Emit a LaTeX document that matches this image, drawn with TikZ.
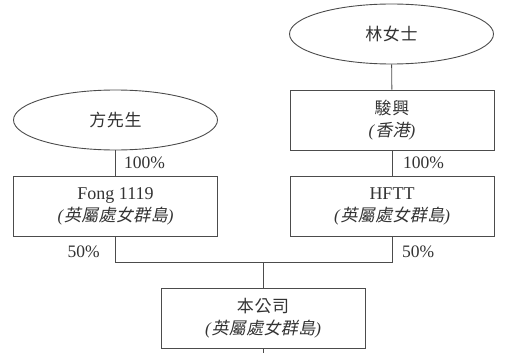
\documentclass[tikz,border=0pt]{standalone}
\usepackage{fontspec}
\setmainfont{Liberation Serif}
\newfontfamily\cjk{Noto Sans CJK TC}[LetterSpace=4]
\newfontfamily\cjkit{Noto Sans CJK TC}[FakeSlant=0.2,LetterSpace=2]
\usetikzlibrary{shapes.geometric}
\tikzset{
  ln/.style={draw=black!70, line width=0.9pt},
  person/.style={ln, ellipse, minimum width=204pt, minimum height=60pt, inner sep=0pt, text=black!80, font=\fontsize{17}{20}\selectfont},
  company/.style={ln, rectangle, minimum width=204pt, minimum height=60pt, inner sep=0pt, align=center, text=black!80, font=\fontsize{18}{22}\selectfont},
  lbl/.style={inner sep=0pt, text=black!80, font=\fontsize{17.5}{19}\selectfont},
}
\newcommand{\bvi}{\textit{(}{\cjkit 英屬處女群島}\textit{)}}
\begin{document}
\begin{tikzpicture}[x=1pt,y=1pt]
\useasboundingbox (0,0) rectangle (506,-353);
\node[person] (lin) at (391.5,-34) {\cjk 林女士};
\node[person] (fang) at (115.5,-120) {\cjk 方先生};
\node[company] (jx) at (392,-120) {{\fontsize{17}{20}\selectfont\cjk 駿興}\\{\fontsize{17}{20}\selectfont\textit{(}{\cjkit 香港}\textit{)}}};
\node[company] (fong) at (115.5,-206) {Fong 1119\\{\fontsize{17}{20}\selectfont\bvi}};
\node[company] (hftt) at (392,-206) {HFTT\\{\fontsize{17}{20}\selectfont\bvi}};
\node[company] (co) at (263,-318) {{\fontsize{17}{20}\selectfont\cjk 本公司}\\{\fontsize{17}{20}\selectfont\bvi}};
\draw[ln] (lin) -- (jx);
\draw[ln] (fang) -- (fong);
\draw[ln] (jx) -- (hftt);
\draw[ln] (fong.south) -- ++(0,-26) -| (hftt.south);
\coordinate (join) at (263,-262);
\coordinate (bot) at (263,-353);
\draw[ln] (co.north) -- (join);
\draw[ln] (co.south) -- (bot);
\node[lbl, anchor=west] (p1) at (124,-163) {100\%};
\node[lbl, anchor=west] (p2) at (403,-163) {100\%};
\node[lbl, anchor=east] (p3) at (100,-252) {50\%};
\node[lbl, anchor=west] (p4) at (402,-252) {50\%};
\end{tikzpicture}
\end{document}
